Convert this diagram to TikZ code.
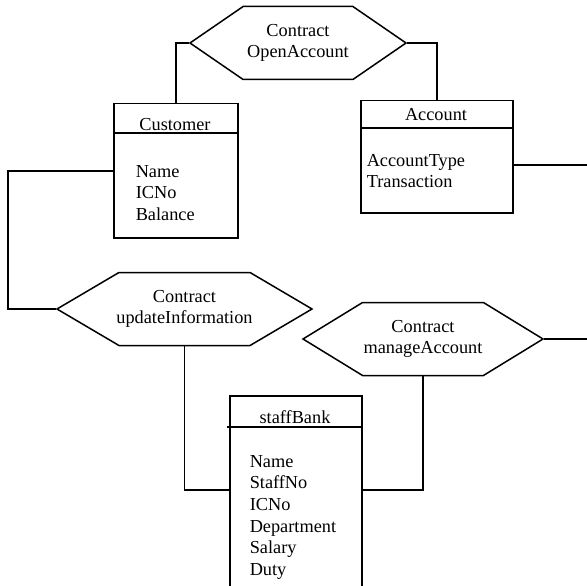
\documentclass[tikz,border=0pt]{standalone}
\usepackage{fontspec}
\setmainfont{Liberation Serif}
\usetikzlibrary{shapes.symbols}

\def\rowsep{21.7}

\begin{document}
\begin{tikzpicture}[x=1pt,y=-1pt,line width=1.5pt,font=\fontsize{18.3}{21.7}\selectfont]
		\tikzstyle{contract}=[signal,signal to=east and west,draw,align=center,inner xsep=-20pt,inner ysep=0pt,minimum height=73pt]
		\tikzstyle{classbox}=[rectangle,draw,anchor=north west,inner sep=0pt]
		\tikzstyle{title}=[anchor=base,inner sep=0pt]
		\tikzstyle{attr}=[anchor=base west,inner sep=0pt]
		
		\useasboundingbox (0,0) rectangle (587,586);
		\clip (0,0) rectangle (587,586);
		
		% Draw the contract nodes
		\node[contract,signal pointer angle=69,minimum width=216pt] (open) at (298,43) {Contract\\OpenAccount};
		\node[contract,signal pointer angle=61,minimum width=255pt] (upd) at (184.5,309) {Contract\\updateInformation};
		\node[contract,signal pointer angle=63,minimum width=240pt] (mng) at (423,339) {Contract\\manageAccount};
		
		% Draw the class boxes
		\node[classbox,minimum width=124pt,minimum height=134pt] (cust) at (113,103) {};
		\node[classbox,minimum width=152pt,minimum height=112pt] (acct) at (360,100) {};
		\node[classbox,minimum width=132pt,minimum height=220pt] (staff) at (229,395) {};
		
		\draw (cust.west |- 0,133) -- (cust.east |- 0,133);
		\draw (acct.west |- 0,128) -- (acct.east |- 0,128);
		\draw ([xshift=-2pt]staff.west |- 0,427) -- (staff.east |- 0,427);
		
		\node[title] (cust-t) at (175,131) {Customer};
		\node[title] (acct-t) at (436,121) {Account};
		\node[title] (staff-t) at (295,423) {staffBank};
		
		% Attributes of each class
		\foreach \name [count=\i] in {Name,ICNo,Balance}
		\node[attr] (C-\i) at (135,{177+\rowsep*(\i-1)}) {\name};
		
		\foreach \name [count=\i] in {AccountType,Transaction}
		\node[attr] (A-\i) at (366,{166+\rowsep*(\i-1)}) {\name};
		
		\foreach \name [count=\i] in {Name,StaffNo,ICNo,Department,Salary,Duty}
		\node[attr] (S-\i) at (249,{467+\rowsep*(\i-1)}) {\name};
		
		% Connect the contracts with the classes
		\coordinate (accOut) at (587,165);
		\coordinate (mngOut) at (587,339);
		\coordinate (loop) at (8,171);
		\coordinate (staffLink) at (0,490);
		
		\draw (open.west) -| (cust.north);
		\draw (open.east) -| (acct.north);
		\draw (acct.east |- accOut) -- (accOut);
		\draw (upd.west) -| (loop) -- (cust.west |- loop);
		\draw (upd.south) |- (staff.west |- staffLink);
		\draw (mng.south) |- (staff.east |- staffLink);
		\draw (mng.east) -- (mngOut);
\end{tikzpicture}
\end{document}
